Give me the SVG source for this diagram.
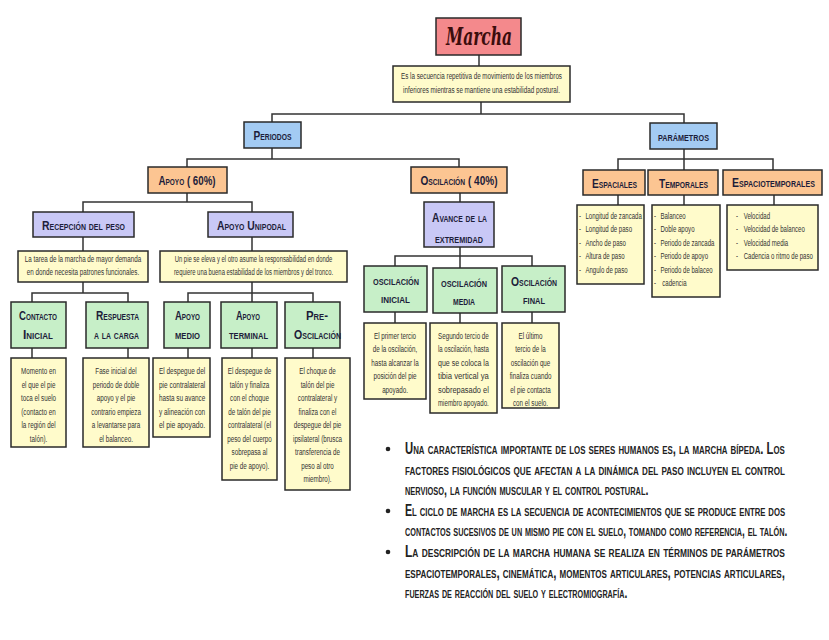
<svg xmlns="http://www.w3.org/2000/svg" width="829" height="640" viewBox="0 0 829 640">
<style>
.ln{fill:none;stroke:#333;stroke-width:1.5}
.bx{stroke:#2a2a2a;stroke-width:1.5}
.pink{fill:#f4898c}
.yel{fill:#fffbcb}
.blue{fill:#a3cbf3}
.peach{fill:#fcc592}
.lav{fill:#c9c8f6}
.green{fill:#c7efc8}
.lbl{font-family:"Liberation Sans",Arial,sans-serif;font-weight:bold;font-variant:small-caps;font-size:13.5px;fill:#1d1d3a;text-anchor:middle}
.d{font-family:"Liberation Sans",Arial,sans-serif;font-size:9.5px;fill:#333;text-anchor:middle}
.dl{font-family:"Liberation Sans",Arial,sans-serif;font-size:9.5px;fill:#333;text-anchor:start}
.bt{font-family:"Liberation Sans",Arial,sans-serif;font-weight:bold;font-variant:small-caps;font-size:16px;fill:#222}
.title{font-family:"DejaVu Serif",serif;font-style:italic;font-weight:bold;font-size:24px;fill:#3b0d0d;text-anchor:middle}
</style>
<rect width="829" height="640" fill="#ffffff"/>

<g id="connectors">
<path class="ln" d="M479 55V66"/>
<path class="ln" d="M481 102V114M272 122V114H684V123"/>
<path class="ln" d="M272 148V159M187 167V159H459V167"/>
<path class="ln" d="M187 193V202M83 212V202H252V212"/>
<path class="ln" d="M83 237V251M252 237V251"/>
<path class="ln" d="M83 282V293M32 302V293H128V302"/>
<path class="ln" d="M252 282V302M188 302V293H313V302"/>
<path class="ln" d="M32 348V358M128 348V358M188 348V358M252 348V358M313 348V358"/>
<path class="ln" d="M460 193V202M460 247V268M395 266V256H532V266"/>
<path class="ln" d="M395 312V323M460 313V323M532 312V323"/>
<path class="ln" d="M684 149V170M618 170V159H773V170"/>
<path class="ln" d="M618 195V205M684 195V205M774 195V205"/>
</g>

<g id="marcha">
<rect class="bx pink" x="436" y="18" width="85" height="37"/>
<text class="title" x="479" y="45" textLength="66" lengthAdjust="spacingAndGlyphs">Marcha</text>
</g>
<g id="marcha-desc">
<rect class="bx yel" x="393" y="66" width="177" height="36"/>
<g transform="translate(481.5 0) scale(0.66 1)">
<text class="d" x="0" y="79.5" font-size="9">Es la secuencia repetitiva de movimiento de los miembros</text>
<text class="d" x="0" y="93.5" font-size="9">inferiores mientras se mantiene una estabilidad postural.</text>
</g>
</g>

<g id="periodos">
<rect class="bx blue" x="244" y="122" width="57" height="26"/>
<text class="lbl" x="272.5" y="139.5" textLength="38" lengthAdjust="spacingAndGlyphs">Periodos</text>
</g>
<g id="parametros">
<rect class="bx blue" x="650" y="123" width="67" height="26"/>
<text class="lbl" x="683.5" y="140.5" textLength="51" lengthAdjust="spacingAndGlyphs">parámetros</text>
</g>

<g id="apoyo">
<rect class="bx peach" x="148" y="167" width="79" height="26"/>
<text class="lbl" x="187" y="184.5" textLength="57" lengthAdjust="spacingAndGlyphs">Apoyo ( 60%)</text>
</g>
<g id="oscilacion">
<rect class="bx peach" x="411" y="167" width="96" height="26"/>
<text class="lbl" x="459" y="184.5" textLength="77" lengthAdjust="spacingAndGlyphs">Oscilación ( 40%)</text>
</g>

<g id="espaciales">
<rect class="bx peach" x="583" y="170" width="62" height="25"/>
<text class="lbl" x="614.5" y="187.5" textLength="45" lengthAdjust="spacingAndGlyphs">Espaciales</text>
</g>
<g id="temporales">
<rect class="bx peach" x="648" y="170" width="70" height="25"/>
<text class="lbl" x="683.5" y="187.5" textLength="49" lengthAdjust="spacingAndGlyphs">Temporales</text>
</g>
<g id="espaciotemporales">
<rect class="bx peach" x="723" y="170" width="99" height="25"/>
<g transform="translate(773.5 0) scale(0.72 1)">
<text class="lbl" x="0" y="187.5" textLength="115" lengthAdjust="spacingAndGlyphs">Espaciotemporales</text>
</g>
</g>

<g id="espaciales-list">
<rect class="bx yel" x="577" y="205" width="67" height="79"/>
<g transform="translate(579 0) scale(0.64 1)">
<text class="dl" x="0" y="219">-</text><text class="dl" x="10" y="219">Longitud de zancada</text>
<text class="dl" x="0" y="232.5">-</text><text class="dl" x="10" y="232.5">Longitud de paso</text>
<text class="dl" x="0" y="246">-</text><text class="dl" x="10" y="246">Ancho de paso</text>
<text class="dl" x="0" y="259.5">-</text><text class="dl" x="10" y="259.5">Altura de paso</text>
<text class="dl" x="0" y="273">-</text><text class="dl" x="10" y="273">Angulo de paso</text>
</g>
</g>
<g id="temporales-list">
<rect class="bx yel" x="652" y="205" width="68" height="92"/>
<g transform="translate(654 0) scale(0.64 1)">
<text class="dl" x="0" y="219">-</text><text class="dl" x="10" y="219">Balanceo</text>
<text class="dl" x="0" y="232.5">-</text><text class="dl" x="10" y="232.5">Doble apoyo</text>
<text class="dl" x="0" y="246">-</text><text class="dl" x="10" y="246">Periodo de zancada</text>
<text class="dl" x="0" y="259.5">-</text><text class="dl" x="10" y="259.5">Periodo de apoyo</text>
<text class="dl" x="0" y="273">-</text><text class="dl" x="10" y="273">Periodo de balaceo</text>
<text class="dl" x="0" y="286.5">-</text><text class="dl" x="13" y="286.5">cadencia</text>
</g>
</g>
<g id="espaciotemporales-list">
<rect class="bx yel" x="727" y="205" width="91" height="65"/>
<g transform="translate(736 0) scale(0.64 1)">
<text class="dl" x="0" y="219">-</text><text class="dl" x="12" y="219">Velocidad</text>
<text class="dl" x="0" y="232.5">-</text><text class="dl" x="12" y="232.5">Velocidad de balanceo</text>
<text class="dl" x="0" y="246">-</text><text class="dl" x="12" y="246">Velocidad media</text>
<text class="dl" x="0" y="259.5">-</text><text class="dl" x="12" y="259.5">Cadencia o ritmo de paso</text>
</g>
</g>

<g id="recepcion">
<rect class="bx lav" x="33" y="212" width="101" height="25"/>
<text class="lbl" x="83.5" y="229.5" textLength="83" lengthAdjust="spacingAndGlyphs">Recepción del peso</text>
</g>
<g id="unipodal">
<rect class="bx lav" x="208" y="212" width="85" height="25"/>
<text class="lbl" x="251.5" y="229.5" textLength="69" lengthAdjust="spacingAndGlyphs">Apoyo Unipodal</text>
</g>
<g id="recepcion-desc">
<rect class="bx yel" x="18" y="251" width="130" height="31"/>
<g transform="translate(83 0) scale(0.66 1)">
<text class="d" x="0" y="262">La tarea de la marcha de mayor demanda</text>
<text class="d" x="0" y="275">en donde necesita patrones funcionales.</text>
</g>
</g>
<g id="unipodal-desc">
<rect class="bx yel" x="160" y="251" width="187" height="31"/>
<g transform="translate(253.5 0) scale(0.62 1)">
<text class="d" x="0" y="262">Un pie se eleva y el otro asume la responsabilidad en donde</text>
<text class="d" x="0" y="275">requiere una buena estabilidad de los miembros y del tronco.</text>
</g>
</g>

<g id="contacto">
<rect class="bx green" x="11" y="302" width="55" height="46"/>
<text class="lbl" x="38" y="319.5" textLength="38" lengthAdjust="spacingAndGlyphs">Contacto</text>
<text class="lbl" x="38" y="338.5" textLength="30" lengthAdjust="spacingAndGlyphs">Inicial</text>
</g>
<g id="respuesta">
<rect class="bx green" x="86" y="302" width="62" height="46"/>
<text class="lbl" x="117.5" y="319.5" textLength="43" lengthAdjust="spacingAndGlyphs">Respuesta</text>
<text class="lbl" x="116.5" y="338.5" textLength="45" lengthAdjust="spacingAndGlyphs">a la carga</text>
</g>
<g id="apoyo-medio">
<rect class="bx green" x="164" y="302" width="46" height="46"/>
<text class="lbl" x="187.5" y="319.5" textLength="25" lengthAdjust="spacingAndGlyphs">Apoyo</text>
<text class="lbl" x="187.5" y="338.5" textLength="25" lengthAdjust="spacingAndGlyphs">medio</text>
</g>
<g id="apoyo-terminal">
<rect class="bx green" x="221" y="302" width="56" height="46"/>
<text class="lbl" x="248" y="319.5" textLength="24" lengthAdjust="spacingAndGlyphs">Apoyo</text>
<text class="lbl" x="248.5" y="338.5" textLength="39" lengthAdjust="spacingAndGlyphs">terminal</text>
</g>
<g id="pre-oscilacion">
<rect class="bx green" x="285" y="302" width="55" height="46"/>
<text class="lbl" x="317" y="319.5" textLength="22" lengthAdjust="spacingAndGlyphs">Pre-</text>
<text class="lbl" x="317.5" y="338.5" textLength="47" lengthAdjust="spacingAndGlyphs">Oscilación</text>
</g>

<g id="contacto-desc">
<rect class="bx yel" x="11" y="358" width="55" height="89"/>
<g transform="translate(38.5 0) scale(0.66 1)">
<text class="d" x="0" y="374.5">Momento en</text>
<text class="d" x="0" y="388">el que el pie</text>
<text class="d" x="0" y="401.5">toca el suelo</text>
<text class="d" x="0" y="415">(contacto en</text>
<text class="d" x="0" y="428.5">la región del</text>
<text class="d" x="0" y="442">talón).</text>
</g>
</g>
<g id="respuesta-desc">
<rect class="bx yel" x="83" y="358" width="66" height="89"/>
<g transform="translate(116 0) scale(0.66 1)">
<text class="d" x="0" y="374.5">Fase inicial del</text>
<text class="d" x="0" y="388">periodo de doble</text>
<text class="d" x="0" y="401.5">apoyo y el pie</text>
<text class="d" x="0" y="415">contrario empieza</text>
<text class="d" x="0" y="428.5">a levantarse para</text>
<text class="d" x="0" y="442">el balanceo.</text>
</g>
</g>
<g id="apoyo-medio-desc">
<rect class="bx yel" x="153" y="358" width="57" height="79"/>
<g transform="translate(159 0) scale(0.66 1)">
<text class="dl" x="0" y="374.5" textLength="70" lengthAdjust="spacingAndGlyphs">El despegue del</text>
<text class="dl" x="0" y="388" textLength="70" lengthAdjust="spacingAndGlyphs">pie contralateral</text>
<text class="dl" x="0" y="401.5" textLength="70" lengthAdjust="spacingAndGlyphs">hasta su avance</text>
<text class="dl" x="0" y="415" textLength="70" lengthAdjust="spacingAndGlyphs">y alineación con</text>
<text class="dl" x="0" y="428.5" textLength="70" lengthAdjust="spacingAndGlyphs">el pie apoyado.</text>
</g>
</g>
<g id="apoyo-terminal-desc">
<rect class="bx yel" x="222" y="358" width="55" height="122"/>
<g transform="translate(249.5 0) scale(0.66 1)">
<text class="d" x="0" y="374.5">El despegue de</text>
<text class="d" x="0" y="388">talón y finaliza</text>
<text class="d" x="0" y="401.5">con el choque</text>
<text class="d" x="0" y="415">de talón del pie</text>
<text class="d" x="0" y="428.5">contralateral (el</text>
<text class="d" x="0" y="442">peso del cuerpo</text>
<text class="d" x="0" y="455.5">sobrepasa al</text>
<text class="d" x="0" y="469">pie de apoyo).</text>
</g>
</g>
<g id="pre-oscilacion-desc">
<rect class="bx yel" x="285" y="358" width="65" height="132"/>
<g transform="translate(317.5 0) scale(0.66 1)">
<text class="d" x="0" y="374.5">El choque de</text>
<text class="d" x="0" y="388">talón del pie</text>
<text class="d" x="0" y="401.5">contralateral y</text>
<text class="d" x="0" y="415">finaliza con el</text>
<text class="d" x="0" y="428.5">despegue del pie</text>
<text class="d" x="0" y="442">ipsilateral (brusca</text>
<text class="d" x="0" y="455.5">transferencia de</text>
<text class="d" x="0" y="469">peso al otro</text>
<text class="d" x="0" y="482.5">miembro).</text>
</g>
</g>

<g id="avance">
<rect class="bx lav" x="424" y="202" width="70" height="45"/>
<text class="lbl" x="459.5" y="221.5" textLength="55" lengthAdjust="spacingAndGlyphs">Avance de la</text>
<text class="lbl" x="459" y="242.5" textLength="48" lengthAdjust="spacingAndGlyphs">extremidad</text>
</g>
<g id="osc-inicial">
<rect class="bx green" x="364" y="266" width="63" height="46"/>
<text class="lbl" x="396" y="284.5" textLength="46" lengthAdjust="spacingAndGlyphs">oscilación</text>
<text class="lbl" x="395.5" y="302.5" textLength="29" lengthAdjust="spacingAndGlyphs">inicial</text>
</g>
<g id="osc-media">
<rect class="bx green" x="433" y="268" width="64" height="45"/>
<text class="lbl" x="464" y="286.5" textLength="46" lengthAdjust="spacingAndGlyphs">oscilación</text>
<text class="lbl" x="464" y="304.5" textLength="22" lengthAdjust="spacingAndGlyphs">media</text>
</g>
<g id="osc-final">
<rect class="bx green" x="502" y="266" width="63" height="46"/>
<text class="lbl" x="534" y="285.5" textLength="46" lengthAdjust="spacingAndGlyphs">Oscilación</text>
<text class="lbl" x="534" y="303.5" textLength="22" lengthAdjust="spacingAndGlyphs">final</text>
</g>

<g id="osc-inicial-desc">
<rect class="bx yel" x="364" y="323" width="62" height="76"/>
<g transform="translate(395 0) scale(0.66 1)">
<text class="d" x="0" y="339">El primer tercio</text>
<text class="d" x="0" y="352.5">de la oscilación,</text>
<text class="d" x="0" y="366">hasta alcanzar la</text>
<text class="d" x="0" y="379.5">posición del pie</text>
<text class="d" x="0" y="393">apoyado.</text>
</g>
</g>
<g id="osc-media-desc">
<rect class="bx yel" x="430" y="323" width="67" height="90"/>
<g transform="translate(438 0) scale(0.66 1)">
<text class="dl" x="0" y="339" textLength="77" lengthAdjust="spacingAndGlyphs">Segundo tercio de</text>
<text class="dl" x="0" y="352.5" textLength="77" lengthAdjust="spacingAndGlyphs">la oscilación, hasta</text>
<text class="dl" x="0" y="366" textLength="77" lengthAdjust="spacingAndGlyphs">que se coloca la</text>
<text class="dl" x="0" y="379.5" textLength="77" lengthAdjust="spacingAndGlyphs">tibia vertical ya</text>
<text class="dl" x="0" y="393" textLength="77" lengthAdjust="spacingAndGlyphs">sobrepasado el</text>
<text class="dl" x="0" y="406.5" textLength="77" lengthAdjust="spacingAndGlyphs">miembro apoyado.</text>
</g>
</g>
<g id="osc-final-desc">
<rect class="bx yel" x="502" y="323" width="57" height="85"/>
<g transform="translate(530.5 0) scale(0.66 1)">
<text class="d" x="0" y="339">El último</text>
<text class="d" x="0" y="352.5">tercio de la</text>
<text class="d" x="0" y="366">oscilación que</text>
<text class="d" x="0" y="379.5">finaliza cuando</text>
<text class="d" x="0" y="393">el pie contacta</text>
<text class="d" x="0" y="406.5">con el suelo.</text>
</g>
</g>

<g id="notes">
<circle cx="388" cy="449" r="2.3" fill="#222"/>
<circle cx="388" cy="511" r="2.3" fill="#222"/>
<circle cx="388" cy="552" r="2.3" fill="#222"/>
<g transform="translate(405 0) scale(0.78 1)">
<text class="bt" x="0" y="454" textLength="487" lengthAdjust="spacingAndGlyphs">Una característica importante de los seres humanos es, la marcha bípeda. Los</text>
<text class="bt" x="0" y="474.6" textLength="487" lengthAdjust="spacingAndGlyphs">factores fisiológicos que afectan a la dinámica del paso incluyen el control</text>
<text class="bt" x="0" y="495.2" textLength="312" lengthAdjust="spacingAndGlyphs">nervioso, la función muscular y el control postural.</text>
<text class="bt" x="0" y="557" textLength="487" lengthAdjust="spacingAndGlyphs">La descripción de la marcha humana se realiza en términos de parámetros</text>
<text class="bt" x="0" y="577.6" textLength="487" lengthAdjust="spacingAndGlyphs">espaciotemporales, cinemática, momentos articulares, potencias articulares,</text>
<text class="bt" x="0" y="598.2" textLength="285" lengthAdjust="spacingAndGlyphs">fuerzas de reacción del suelo y electromiografía.</text>
</g>
<g transform="translate(405 0) scale(0.7 1)">
<text class="bt" x="0" y="515.8" textLength="543" lengthAdjust="spacingAndGlyphs">El ciclo de marcha es la secuencia de acontecimientos que se produce entre dos</text>
<text class="bt" x="0" y="536.4" textLength="546" lengthAdjust="spacingAndGlyphs">contactos sucesivos de un mismo pie con el suelo, tomando como referencia, el talón.</text>
</g>
</g>
</svg>
